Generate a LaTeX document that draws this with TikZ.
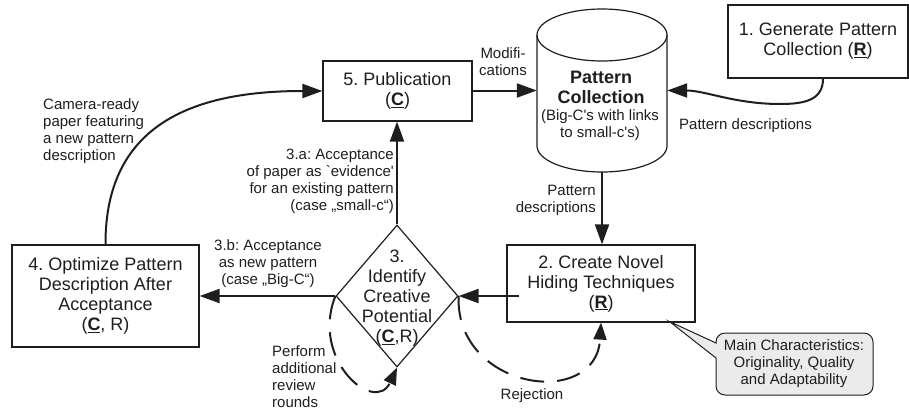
\documentclass[tikz,border=0pt]{standalone}
\usepackage{fontspec}
\setmainfont{Liberation Sans}
\usetikzlibrary{arrows.meta,calc,shapes.geometric}
\definecolor{ink}{HTML}{1E1E1E}
\definecolor{callfill}{HTML}{EBEBEB}
\frenchspacing
\begin{document}
\begin{tikzpicture}[x=1pt,y=-1pt,
  box/.style={draw=ink, line width=1.2pt, fill=white, inner sep=0pt, align=center,
    font=\fontsize{18}{20}\selectfont, text=ink},
  btxt/.style={font=\fontsize{18}{20}\selectfont, align=center, inner sep=0pt, text=ink},
  lbl/.style={font=\fontsize{15}{17}\selectfont, inner sep=0pt, text=ink},
  arr/.style={draw=ink, line width=2pt, -{Triangle[length=20pt,width=14pt]}},
  darr/.style={draw=ink, line width=2pt, dash pattern=on 24pt off 13pt, -{Triangle[length=17pt,width=13pt]}},
]
\useasboundingbox (0,0) rectangle (909,410);

% cylinder (pattern collection)
\draw[draw=ink, line width=1.2pt, fill=white] (537,35) -- (537,146)
  arc[start angle=180,end angle=360,x radius=65pt,y radius=26pt] -- (667,35);
\draw[draw=ink, line width=1.2pt] (602,35) ellipse[x radius=65pt, y radius=26pt];
\node[minimum width=130pt, minimum height=163pt, inner sep=0pt] (pc) at (602,90.5) {};
\node[btxt, font=\fontsize{18}{20}\selectfont\bfseries] (pct) at (601,87) {Pattern\\Collection};
\node[lbl, align=center] (pcs) at (600,125) {(Big-C\textquotesingle s with links\\to small-c\textquotesingle s)};

% boxes
\node[box, minimum width=149pt, minimum height=60pt] (b5) at (397.5,91) {5. Publication\\(\underline{\textbf{C}})};
\node[box, minimum width=180pt, minimum height=73pt] (b1) at (818,41.5) {1. Generate Pattern\\Collection (\underline{\textbf{R}})};
\node[box, minimum width=188pt, minimum height=77pt] (b2) at (601,283.5) {2. Create Novel\\Hiding Techniques\\(\underline{\textbf{R}})};
\node[box, minimum width=187pt, minimum height=102pt] (b4) at (105.5,296) {4. Optimize Pattern\\Description After\\Acceptance\\(\underline{\textbf{C}}, R)};

% diamond
\node[diamond, draw=ink, line width=1.2pt, fill=white, minimum width=122pt, minimum height=142pt, inner sep=0pt] (d3) at (397,296) {};
\node[btxt] (d3t) at (397,298) {3.\\Identify\\Creative\\Potential\\(\underline{\textbf{C}},R)};

% callout
\coordinate (tip) at ($(b2.south east)+(-26,-1)$);
\draw[draw=ink, line width=1pt, fill=callfill] (tip) -- (716,358) [rounded corners=9pt] -- (716,395) -- (873,395) -- (873,333) -- (716,333) [sharp corners] -- (716,343) -- cycle;
\node[lbl, align=center] (ct) at (794,364) {Main Characteristics:\\Originality, Quality\\and Adaptability};

% connectors
\draw[arr] (b5.east |- pc.west) -- (pc.west);
\draw[arr] ($(b1.south)+(5,0)$) .. controls (823,100) and (805,104) .. (780,104)
  .. controls (735,104) and (705,90.5) .. (pc.east);
\draw[arr] (pc.south) -- (pc.south |- b2.north);
\draw[arr] ($(b2.west |- d3.east)+(13,0)$) -- (d3.east);
\draw[arr] (d3.north) -- (d3.north |- b5.south);
\draw[arr] (d3.west) -- (b4.east |- d3.west);
\draw[arr] (b4.north) .. controls (105,120) and (200,91) .. (b5.west);
\draw[darr] (d3.west) .. controls (310,360) and (375,415) .. (d3.south);
\draw[darr] (d3.east) .. controls (455,390) and (596,410) .. (b2.south);

% labels
\node[lbl, align=center] (lmod) at (503,62) {Modifi-\\cations};
\node[lbl, anchor=west] (lpd1) at (679,126) {Pattern descriptions};
\node[lbl, align=right, anchor=east] (lpd2) at (596,200.5) {Pattern\\descriptions};
\node[lbl, align=right, anchor=east] (l3a) at (394,181.5) {3.a: Acceptance\\of paper as \textasciigrave evidence\textquotesingle\\for an existing pattern\\(case „small-c“)};
\node[lbl, align=center] (l3b) at (268,264) {3.b: Acceptance\\as new pattern\\(case „Big-C“)};
\node[lbl, align=left, anchor=west] (lcam) at (43,131) {Camera-ready\\paper featuring\\a new pattern\\description};
\node[lbl, align=left, anchor=west] (lrev) at (272,376.5) {Perform\\additional\\review\\rounds};
\node[lbl] (lrej) at (532,396) {Rejection};
\end{tikzpicture}
\end{document}
